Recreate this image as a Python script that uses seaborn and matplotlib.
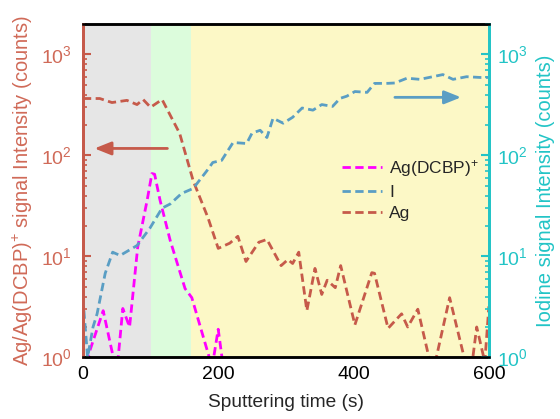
import matplotlib
matplotlib.use("Agg")
import matplotlib.pyplot as plt
import seaborn as sns
import numpy as np
import pandas as pd

# Ag signal (left axis)
ag_t = [0, 25, 43, 65, 80, 89, 100, 117, 143, 163, 185, 200, 217, 229, 241, 260, 272,
        293, 303, 310, 319, 331, 343, 353, 361, 373, 381, 402, 427, 431, 451, 471, 480,
        495, 513, 520, 542, 567, 575, 582, 594, 600]
ag_v = [365, 365, 333, 350, 318, 357, 299, 357, 165, 56, 24, 12, 13.5, 15.8, 8.9, 13.8, 14.7,
        8.1, 9.3, 8.5, 11, 2.9, 7.6, 4.2, 5.8, 4.9, 8.1, 2.1, 6.9, 6.8, 1.94, 2.7, 2.0,
        3.0, 0.9, 0.85, 3.9, 0.8, 0.85, 2.0, 0.9, 3.2]

# Ag(DCBP)+ signal (left axis)
dcbp_t = [0, 7, 30, 50, 59, 69, 81, 95, 102, 106, 114, 129, 151, 161, 191, 200, 210, 220]
dcbp_v = [0.5, 1.0, 2.9, 0.7, 3.05, 2.0, 12.3, 36, 66, 65, 36, 14.4, 4.8, 3.9, 0.8, 1.9, 0.6, 0.4]

# Iodine signal (right axis)
i_t = [0, 7, 15, 21, 33, 44, 55, 80, 99, 117, 129, 146, 163, 183, 192, 205, 222, 242,
       250, 262, 272, 281, 296, 310, 324, 340, 353, 369, 380, 390, 402, 420, 431, 451,
       461, 479, 498, 517, 532, 547, 567, 587, 600]
i_v = [3.9, 1.0, 2.0, 2.7, 6.8, 11, 10.2, 12.8, 19, 30, 33, 42, 47, 70, 85, 89, 134, 131,
       166, 177, 150, 233, 208, 238, 294, 280, 318, 305, 366, 385, 428, 420, 515, 516,
       520, 580, 565, 600, 630, 565, 600, 590, 590]

x_ticks = [0, 200, 400, 600]
y_ticks = [1, 10, 100, 1000]
y_tick_labels = ["10$^{0}$", "10$^{1}$", "10$^{2}$", "10$^{3}$"]

sns.set_style("white")
plt.rcParams["font.family"] = ["Liberation Sans", "DejaVu Sans"]
plt.rcParams["mathtext.default"] = "regular"

BROWN = "#c65a4a"
BROWN_TXT = "#d06a58"
CYAN = "#22c4c6"
BLUE = "#5a9ec4"
MAGENTA = "#ff00ff"

fig = plt.figure(figsize=(5.6, 4.19), dpi=100)
ax = fig.add_axes([0.148, 0.147, 0.725, 0.796])
ax2 = ax.twinx()

# sputtering regions
ax.axvspan(0, 100, color="#e6e6e6", zorder=0, lw=0)
ax.axvspan(100, 160, color="#dcfcdc", zorder=0, lw=0)
ax.axvspan(160, 600, color="#fcf8c6", zorder=0, lw=0)

dash = (0, (3.0, 1.6))
LW = 2.0
df_ag = pd.DataFrame({"t": ag_t, "v": ag_v})
df_dc = pd.DataFrame({"t": dcbp_t, "v": dcbp_v})
df_i = pd.DataFrame({"t": i_t, "v": i_v})

sns.lineplot(data=df_dc, x="t", y="v", ax=ax, color=MAGENTA, lw=LW, linestyle=dash,
             label="Ag(DCBP)$^{+}$", legend=False)
sns.lineplot(data=df_ag, x="t", y="v", ax=ax, color=BROWN, lw=LW, linestyle=dash,
             label="Ag", legend=False)
sns.lineplot(data=df_i, x="t", y="v", ax=ax2, color=BLUE, lw=LW, linestyle=dash,
             label="I", legend=False)

for a in (ax, ax2):
    a.set_yscale("log")
    a.set_ylim(1, 2000)
ax.set_xlim(0, 600)
ax.set_xticks(x_ticks)
ax.set_xticks([100, 300, 500], minor=True)
ax.set_yticks(y_ticks)
ax.set_yticklabels(y_tick_labels)
ax2.set_yticks(y_ticks)
ax2.set_yticklabels(y_tick_labels)

ax.tick_params(axis="x", which="both", direction="in", colors="black", labelsize=14,
               length=5, width=1.5, pad=6)
ax.tick_params(axis="x", which="minor", length=3)
ax.tick_params(axis="y", which="major", direction="in", colors=BROWN, labelcolor=BROWN_TXT,
               labelsize=14, length=6, width=1.5, left=True, pad=8)
ax.tick_params(axis="y", which="minor", direction="in", colors=BROWN, length=3, width=1.2)
ax2.tick_params(axis="y", which="major", direction="in", colors=CYAN, labelcolor=CYAN,
                labelsize=14, length=6, width=1.5, right=True, pad=6)
ax2.tick_params(axis="y", which="minor", direction="in", colors=CYAN, length=3, width=1.2)

ax.set_xlabel("Sputtering time (s)", fontsize=13.8, labelpad=8)
ax.set_ylabel("Ag/Ag(DCBP)$^{+}$ signal Intensity (counts)", fontsize=14.5, color=BROWN_TXT,
              labelpad=4)
ax2.set_ylabel("Iodine signal Intensity (counts)", fontsize=14.5, color=CYAN, labelpad=6)

for a in (ax, ax2):
    a.spines["top"].set_color("black")
    a.spines["bottom"].set_color("black")
    a.spines["top"].set_linewidth(1.8)
    a.spines["bottom"].set_linewidth(1.8)
    a.spines["left"].set_color(BROWN)
    a.spines["left"].set_linewidth(2.0)
    a.spines["right"].set_color(CYAN)
    a.spines["right"].set_linewidth(2.0)

# direction arrows for each axis
ax.annotate("", xy=(13, 117), xytext=(129, 117),
            arrowprops=dict(arrowstyle="-|>,head_length=1.0,head_width=0.4", color=BROWN, lw=2.0))
ax2.annotate("", xy=(563, 375), xytext=(457, 375),
             arrowprops=dict(arrowstyle="-|>,head_length=1.0,head_width=0.4", color=BLUE, lw=2.0))

h1, l1 = ax.get_legend_handles_labels()
h2, l2 = ax2.get_legend_handles_labels()
handles = [h1[0], h2[0], h1[1]]
labels = [l1[0], l2[0], l1[1]]
ax2.legend(handles, labels, loc="upper left", bbox_to_anchor=(0.6, 0.645), frameon=False,
           fontsize=12.5, handlelength=2.3, labelspacing=0.35, handletextpad=0.4)

fig.savefig("out.png", dpi=100)
